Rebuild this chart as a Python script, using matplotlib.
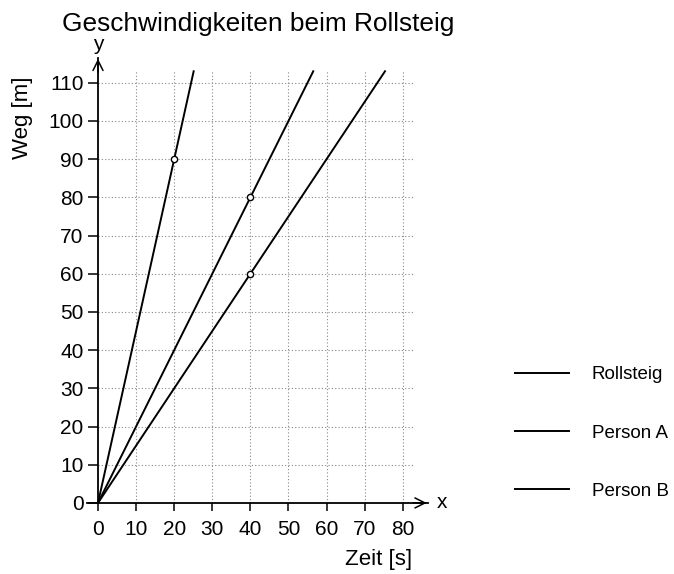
import numpy as np
import matplotlib.pyplot as plt

# data
names = ["Rollsteig", "Person A", "Person B"]
speeds = [4.5, 2.0, 1.5]          # m/s, slope of each line
y_end = [113, 113, 113]           # lines stop near the top
points_x = [20, 40, 40]
points_y = [90, 80, 60]
xticks = [0, 10, 20, 30, 40, 50, 60, 70, 80]
yticks = [0, 10, 20, 30, 40, 50, 60, 70, 80, 90, 100, 110]

plt.rcParams['font.family'] = ['Liberation Sans', 'DejaVu Sans']

fig = plt.figure(figsize=(6.74, 5.74), dpi=100)
ax = fig.add_axes([0.1228, 0.1105, 0.520, 0.7986])
ax.set_xlim(-4, 88)
ax.set_ylim(-2, 118)

# grid as dotted lines
ax.vlines(xticks[1:], 0, 113, colors='#888888', linestyles=(0, (1, 2)), linewidth=0.8)
ax.hlines(yticks[1:], 0, 83, colors='#888888', linestyles=(0, (1, 2)), linewidth=0.8)

lines = []
for name, v, ye in zip(names, speeds, y_end):
    t = np.array([0, ye / v])
    ln, = ax.plot(t, v * t, color='black', linewidth=1.4, label=name)
    lines.append(ln)

ax.plot(points_x, points_y, 'o', markersize=4.5, markerfacecolor='white',
        markeredgecolor='black', markeredgewidth=1.0)

# axes through origin
for s in ['top', 'right']:
    ax.spines[s].set_visible(False)
ax.spines['left'].set_position(('data', 0))
ax.spines['bottom'].set_position(('data', 0))
ax.spines['left'].set_bounds(0, 116.5)
ax.spines['bottom'].set_bounds(-3, 86.5)
ax.spines['left'].set_linewidth(1.3)
ax.spines['bottom'].set_linewidth(1.3)
ax.annotate('', xy=(0, 117), xytext=(0, 112),
            arrowprops=dict(arrowstyle='->', color='black', lw=1.1, mutation_scale=18))
ax.annotate('', xy=(87, 0), xytext=(82, 0),
            arrowprops=dict(arrowstyle='->', color='black', lw=1.1, mutation_scale=18))

ax.set_xticks(xticks)
ax.set_yticks(yticks)
ax.tick_params(axis='y', direction='out', length=7.5, width=1.1, labelsize=15, pad=3)
ax.tick_params(axis='x', direction='out', length=6, width=1.1, labelsize=15, pad=6)

ax.text(0, 120, 'y', ha='center', va='center', fontsize=15)
ax.text(89, 0, 'x', ha='left', va='center', fontsize=15)
fig.text(0.561, 0.026, 'Zeit [s]', ha='center', va='center', fontsize=16)
fig.text(0.033, 0.794, 'Weg [m]', ha='center', va='center', rotation=90, fontsize=16)
fig.text(0.383, 0.958, 'Geschwindigkeiten beim Rollsteig', ha='center', va='center', fontsize=18.9)

fig.legend(handles=lines, labels=names, loc='center left', bbox_to_anchor=(0.764, 0.2456),
           frameon=False, fontsize=13.5, borderpad=0, borderaxespad=0,
           handlelength=2.9, handletextpad=1.2, labelspacing=2.2)

fig.savefig('out.png', dpi=100)
